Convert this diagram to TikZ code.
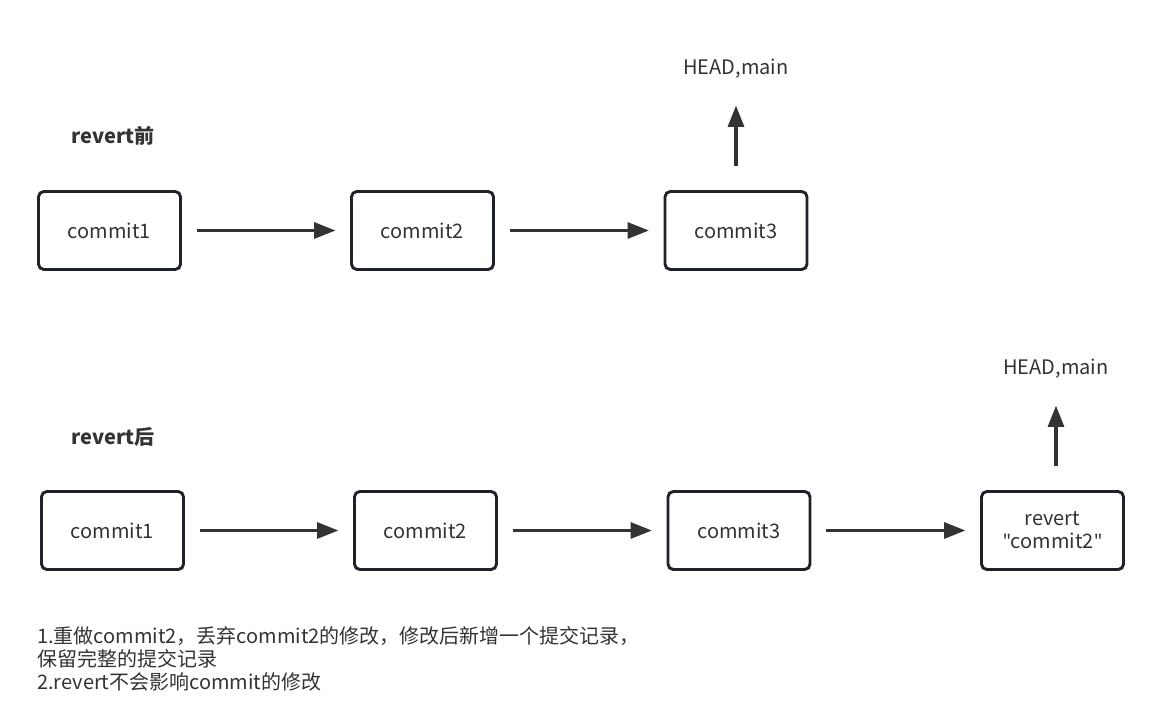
\documentclass[tikz,border=0pt]{standalone}
\usepackage{fontspec}
\setmainfont{Noto Sans CJK SC}
\newfontfamily\quotefont{Noto Sans}
\usetikzlibrary{arrows.meta}
\definecolor{boxline}{HTML}{1F2329}
\definecolor{textgray}{HTML}{333333}
\newcommand{\dq}{{\quotefont\symbol{34}}}
\begin{document}
\begin{tikzpicture}[x=0.75pt, y=-0.75pt,
	font=\fontsize{15}{17.25}\selectfont,
	commit/.style={draw=boxline, line width=2.2pt, rounded corners=4pt, minimum width=106.5pt, minimum height=58.5pt, align=center, text=textgray},
	label/.style={text=textgray, inner sep=0pt},
	link/.style={draw=textgray, line width=2.3pt, -{Triangle[length=16pt, width=12pt]}, shorten <=11pt, shorten >=11pt}]
		\useasboundingbox (0,0) rectangle (1168,724);
		
		% before revert
		\node[label, font=\fontsize{15}{17.25}\selectfont\bfseries] (T1) at (113,136) {revert前};
		\node[commit] (A1) at (109.5,230.5) {commit1};
		\node[commit] (A2) at (422.5,230.5) {commit2};
		\node[commit] (A3) at (736,230.5) {commit3};
		\node[label] (H1) at (736,69) {HEAD,main};
		
		\path (A1) edge[link] (A2);
		\path (A2) edge[link] (A3);
		\path (A3) edge[link, shorten <=18pt, shorten >=20pt] (H1);
		
		% after revert
		\node[label, font=\fontsize{15}{17.25}\selectfont\bfseries] (T2) at (113,437) {revert后};
		\node[commit] (B1) at (112.5,530.5) {commit1};
		\node[commit] (B2) at (425.5,530.5) {commit2};
		\node[commit] (B3) at (739,530.5) {commit3};
		\node[commit] (B4) at (1052.5,530.5) {revert\\\dq commit2\dq};
		\node[label] (H2) at (1056,369) {HEAD,main};
		
		\path (B1) edge[link] (B2);
		\path (B2) edge[link] (B3);
		\path (B3) edge[link] (B4);
		\path (B4.north -| H2) edge[link, shorten <=18pt, shorten >=20pt] (H2);
		
		\node[label, anchor=north west, align=left] (N) at (37,626) {1.重做commit2，丢弃commit2的修改，修改后新增一个提交记录，\\保留完整的提交记录\\2.revert不会影响commit的修改};
\end{tikzpicture}
\end{document}
